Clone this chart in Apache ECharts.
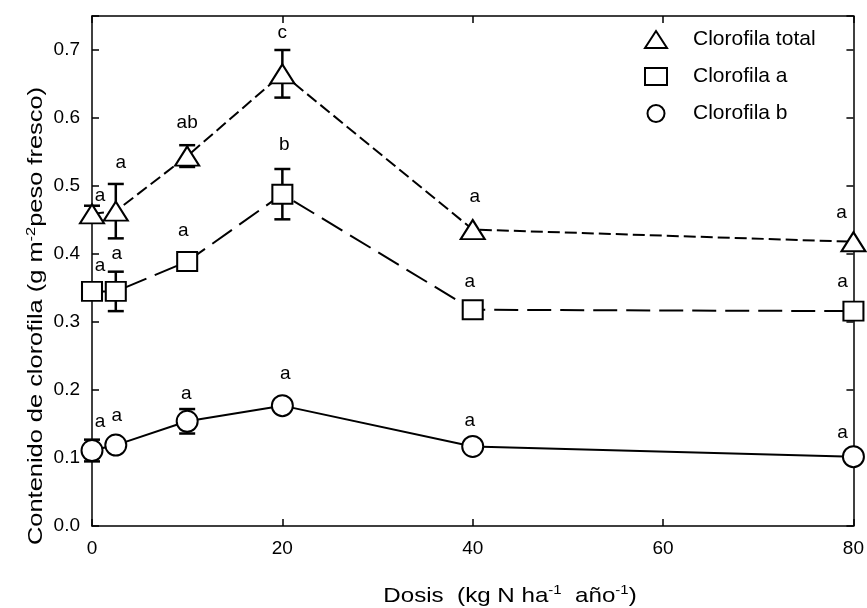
<!DOCTYPE html>
<html>
<head>
<meta charset="utf-8">
<script src="https://cdn.jsdelivr.net/npm/echarts@6/dist/echarts.min.js"></script>
<style>
  html, body { margin: 0; padding: 0; background: #fff; }
  #chart { width: 867px; height: 608px; }
</style>
</head>
<body>
<div id="chart"></div>
<script>
// Nitrogen dose (kg N ha-1 año-1)
const doses = [0, 2.5, 10, 20, 40, 80];

// Clorofila total
const totalMean = [0.459, 0.463, 0.544, 0.665, 0.436, 0.418];
const totalErr  = [0.012, 0.040, 0.016, 0.035, 0, 0];
const totalLetters = ['a', 'a', 'ab', 'c', 'a', 'a'];

// Clorofila a
const aMean = [0.345, 0.345, 0.389, 0.488, 0.318, 0.316];
const aErr  = [0, 0.029, 0, 0.037, 0, 0];
const aLetters = ['a', 'a', 'a', 'b', 'a', 'a'];

// Clorofila b
const bMean = [0.111, 0.119, 0.154, 0.177, 0.117, 0.102];
const bErr  = [0.016, 0, 0.018, 0, 0, 0];
const bLetters = ['a', 'a', 'a', 'a', 'a', 'a'];

// Axis ticks
const xTicks = [0, 20, 40, 60, 80];
const yTicks = [0.0, 0.1, 0.2, 0.3, 0.4, 0.5, 0.6, 0.7];

// Pixel nudges for the significance letters (dx, dy from the top of each bar)
const totalLetterShift = [[8, -10], [5, -21], [0, -22], [0, -17], [2, -33], [-12, -29]];
const aLetterShift     = [[8, -26], [1, -18], [-4, -31], [2, -24], [-3, -28], [-11, -29]];
const bLetterShift     = [[8, -18], [1, -29], [-1, -15], [3, -32], [-3, -26], [-11, -24]];

const FONT = 'Liberation Sans, Arial, sans-serif';
const BLACK = '#000';

function pairs(xs, ys) { return xs.map((x, i) => [x, ys[i]]); }

function errorSeries(mean, err) {
  const data = [];
  doses.forEach((d, i) => { if (err[i] > 0) data.push([d, mean[i] - err[i], mean[i] + err[i]]); });
  return {
    type: 'custom',
    data: data,
    z: 2,
    clip: false,
    silent: true,
    renderItem: function (params, api) {
      const x = api.value(0);
      const lo = api.coord([x, api.value(1)]);
      const hi = api.coord([x, api.value(2)]);
      const cap = 8;
      const st = { stroke: BLACK, lineWidth: 2.5 };
      return {
        type: 'group',
        children: [
          { type: 'line', shape: { x1: lo[0], y1: lo[1], x2: hi[0], y2: hi[1] }, style: st },
          { type: 'line', shape: { x1: hi[0] - cap, y1: hi[1], x2: hi[0] + cap, y2: hi[1] }, style: st },
          { type: 'line', shape: { x1: lo[0] - cap, y1: lo[1], x2: lo[0] + cap, y2: lo[1] }, style: st }
        ]
      };
    }
  };
}

function letterSeries(mean, err, letters, shift) {
  return {
    type: 'custom',
    data: doses.map((d, i) => [d, mean[i] + err[i]]),
    z: 10,
    clip: false,
    silent: true,
    renderItem: function (params, api) {
      const p = api.coord([api.value(0), api.value(1)]);
      const s = shift[params.dataIndex];
      return {
        type: 'text',
        x: p[0] + s[0],
        y: p[1] + s[1],
        style: {
          text: letters[params.dataIndex],
          fill: BLACK,
          fontSize: 19,
          fontFamily: FONT,
          align: 'center',
          verticalAlign: 'middle'
        }
      };
    }
  };
}

function lineSeries(name, mean, symbol, size, dash, width) {
  return {
    type: 'line',
    name: name,
    data: pairs(doses, mean),
    symbol: symbol,
    symbolSize: size,
    showAllSymbol: true,
    clip: false,
    z: 5,
    lineStyle: { color: BLACK, width: width, type: dash },
    itemStyle: { color: '#fff', borderColor: BLACK, borderWidth: 2 },
    emphasis: { disabled: true }
  };
}

const chart = echarts.init(document.getElementById('chart'), null, { renderer: 'canvas' });

function frameAxis(extra) {
  return Object.assign({
    axisLine: { show: true, onZero: false, lineStyle: { color: BLACK, width: 1.5 } },
    axisTick: { show: true, inside: true, length: 7, lineStyle: { color: BLACK, width: 1.5 } },
    splitLine: { show: false }
  }, extra);
}

chart.setOption({
  animation: false,
  backgroundColor: '#fff',
  grid: { left: 92, right: 12, top: 16, bottom: 82 },
  legend: {
    orient: 'vertical',
    left: 639,
    top: 24,
    itemWidth: 22,
    itemHeight: 17,
    itemGap: 16,
    selectedMode: false,
    data: [
      { name: 'Clorofila total', icon: 'triangle' },
      { name: 'Clorofila a', icon: 'rect' },
      { name: 'Clorofila b', icon: 'circle' }
    ],
    itemStyle: { color: '#fff', borderColor: BLACK, borderWidth: 2 },
    textStyle: { fontSize: 21, fontFamily: FONT, color: BLACK, padding: [0, 0, 0, 21], lineHeight: 20 }
  },
  xAxis: [
    frameAxis({
      type: 'value', position: 'bottom', min: xTicks[0], max: xTicks[xTicks.length - 1], interval: 20,
      axisLabel: { fontSize: 19, fontFamily: FONT, color: BLACK, margin: 13 }
    }),
    frameAxis({
      type: 'value', position: 'top', min: xTicks[0], max: xTicks[xTicks.length - 1], interval: 20,
      axisLabel: { show: false }
    })
  ],
  yAxis: [
    frameAxis({
      type: 'value', position: 'left', min: 0, max: 0.75, interval: 0.1,
      axisLabel: {
        fontSize: 19, fontFamily: FONT, color: BLACK, margin: 12,
        formatter: function (v) {
          return yTicks.some(t => Math.abs(t - v) < 1e-9) ? v.toFixed(1) : '';
        }
      }
    }),
    frameAxis({
      type: 'value', position: 'right', min: 0, max: 0.75, interval: 0.1,
      axisLabel: { show: false }
    })
  ],
  series: [
    errorSeries(totalMean, totalErr),
    errorSeries(aMean, aErr),
    errorSeries(bMean, bErr),
    lineSeries('Clorofila total', totalMean, 'triangle', [24, 19], [12, 5], 2),
    lineSeries('Clorofila a', aMean, 'rect', [20, 19], [24, 9], 2),
    lineSeries('Clorofila b', bMean, 'circle', 21, 'solid', 2),
    letterSeries(totalMean, totalErr, totalLetters, totalLetterShift),
    letterSeries(aMean, aErr, aLetters, aLetterShift),
    letterSeries(bMean, bErr, bLetters, bLetterShift)
  ],
  graphic: [
    {
      type: 'text',
      x: 510,
      y: 596,
      scaleX: 1.15,
      style: {
        text: '{n|Dosis  (kg N ha}{s|-1}{n|  año}{s|-1}{n|)}',
        align: 'center',
        verticalAlign: 'middle',
        rich: {
          n: { fontSize: 21, fontFamily: FONT, fill: BLACK, lineHeight: 24 },
          s: { fontSize: 13, fontFamily: FONT, fill: BLACK, verticalAlign: 'top', lineHeight: 24 }
        }
      }
    },
    {
      type: 'text',
      x: 36,
      y: 316,
      rotation: Math.PI / 2,
      scaleX: 1.27,
      style: {
        text: '{n|Contenido de clorofila (g m}{s|-2}{n|peso fresco)}',
        align: 'center',
        verticalAlign: 'middle',
        rich: {
          n: { fontSize: 20, fontFamily: FONT, fill: BLACK, lineHeight: 22 },
          s: { fontSize: 13, fontFamily: FONT, fill: BLACK, verticalAlign: 'top', lineHeight: 22 }
        }
      }
    }
  ]
});
</script>
</body>
</html>
